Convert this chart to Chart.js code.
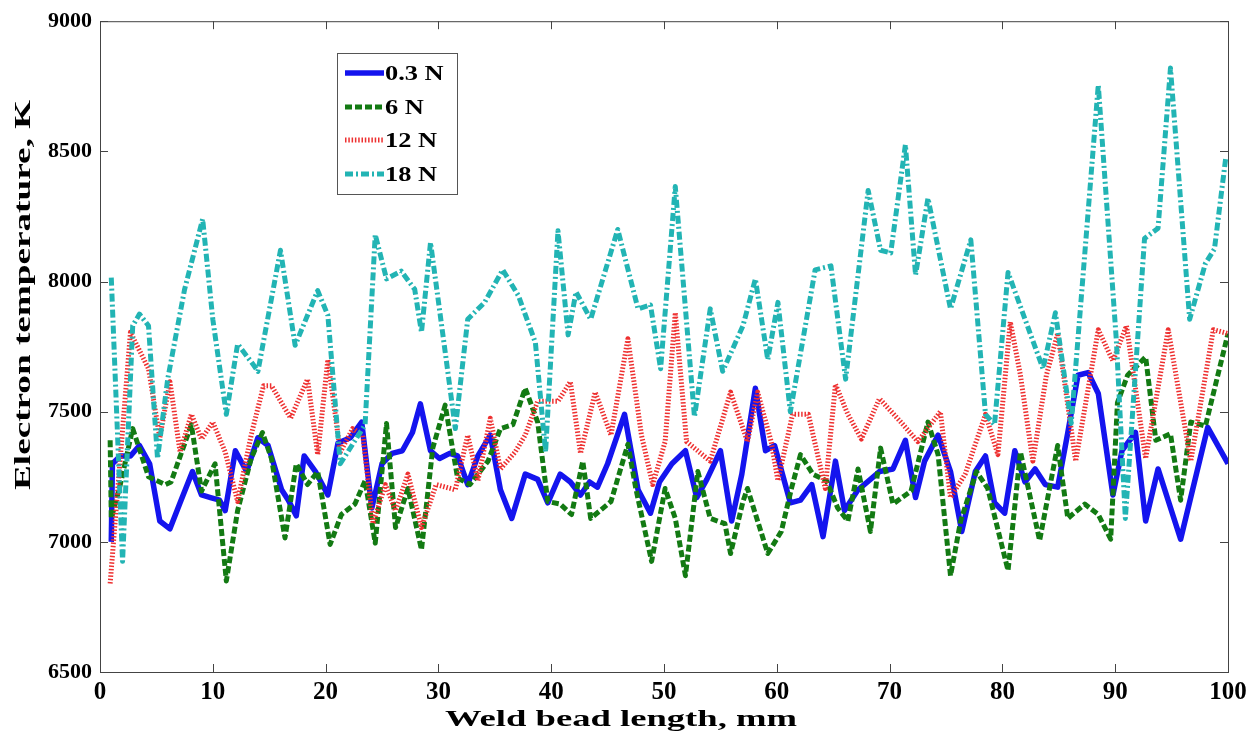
<!DOCTYPE html>
<html>
<head>
<meta charset="utf-8">
<script src="https://cdn.jsdelivr.net/npm/chart.js"></script>
<style>
  html, body { margin: 0; padding: 0; background: #fff; }
  #wrap { width: 1260px; height: 733px; }
</style>
</head>
<body>
<div id="wrap"><canvas id="chart" width="1260" height="733"></canvas></div>
<script>
// tick values
const xTicks = [0, 10, 20, 30, 40, 50, 60, 70, 80, 90, 100];
const yTicks = [6500, 7000, 7500, 8000, 8500, 9000];

// 0.3 N
const blueX = [1.0, 1.1, 1.8, 2.7, 3.5, 4.4, 5.3, 6.2, 7.1, 8.2, 9.0, 9.8, 10.6, 11.1, 12.0, 13.0, 14.0, 14.9, 16.1, 16.7,
  17.4, 18.1, 19.1, 20.2, 21.1, 22.2, 23.2, 24.1, 25.0, 25.9, 26.8, 27.7, 28.4, 29.3, 30.1, 31.0, 31.7, 32.6, 33.5, 34.6,
  35.5, 36.5, 37.7, 38.8, 39.7, 40.8, 41.7, 42.6, 43.4, 44.1, 45.0, 46.5, 47.7, 48.8, 49.6, 50.7, 51.9, 52.9, 53.8, 55.0,
  56.0, 56.9, 58.1, 59.0, 59.8, 61.2, 62.1, 63.1, 64.1, 65.2, 66.0, 67.2, 68.3, 69.1, 70.3, 71.4, 72.3, 73.1, 74.3, 75.4,
  76.4, 77.6, 78.5, 79.3, 80.2, 81.1, 82.0, 82.9, 83.8, 84.9, 85.8, 86.7, 87.6, 88.5, 89.8, 90.6, 91.8, 92.7, 93.8, 95.8,
  98.2, 100.0];
const blueY = [7000, 7300, 7330, 7330, 7370, 7300, 7080, 7050, 7150, 7270, 7180, 7170, 7160, 7120, 7350, 7270, 7400, 7370, 7200, 7160,
  7100, 7330, 7270, 7180, 7380, 7400, 7460, 7130, 7300, 7340, 7350, 7420, 7530, 7350, 7320, 7340, 7330, 7220, 7330, 7410,
  7200, 7090, 7260, 7240, 7150, 7260, 7230, 7180, 7230, 7210, 7300, 7490, 7200, 7110, 7230, 7300, 7350, 7170, 7240, 7350,
  7080, 7260, 7590, 7350, 7370, 7150, 7160, 7220, 7020, 7310, 7120, 7200, 7240, 7270, 7280, 7390, 7170, 7310, 7410, 7270,
  7040, 7270, 7330, 7150, 7110, 7350, 7230, 7280, 7220, 7210, 7420, 7640, 7650, 7570, 7180, 7350, 7420, 7080, 7280, 7010,
  7440, 7300];

// 6 N
const greenX = [0.9, 1.0, 1.8, 2.9, 4.3, 5.8, 6.3, 8.1, 9.0, 10.2, 11.2, 12.2, 13.4, 14.4, 15.2, 16.4, 17.4, 18.4, 19.3, 20.4,
  21.4, 22.6, 23.5, 24.4, 25.4, 26.2, 27.3, 28.5, 29.5, 30.6, 31.7, 32.8, 34.4, 35.5, 36.6, 37.7, 38.8, 39.7, 40.8, 41.8,
  42.8, 43.5, 45.3, 46.8, 47.5, 48.9, 50.1, 51.0, 51.9, 53.0, 54.1, 55.4, 55.9, 57.0, 57.4, 59.2, 60.4, 61.3, 62.1, 63.2,
  64.4, 65.4, 66.3, 67.2, 68.3, 69.2, 70.3, 71.9, 73.4, 74.3, 75.4, 76.3, 77.7, 78.7, 80.5, 81.6, 83.3, 84.9, 85.8, 87.3,
  88.5, 89.6, 90.2, 91.1, 92.7, 93.6, 94.9, 95.8, 96.7, 98.0, 100.0];
const greenY = [7390, 7090, 7220, 7435, 7250, 7220, 7230, 7450, 7195, 7300, 6850, 7120, 7320, 7420, 7320, 7015, 7300, 7220, 7270, 6990,
  7105, 7145, 7235, 6995, 7455, 7055, 7205, 6970, 7360, 7525, 7245, 7220, 7310, 7435, 7450, 7590, 7460, 7155, 7145, 7105,
  7310, 7090, 7155, 7375, 7205, 6925, 7205, 7090, 6870, 7270, 7090, 7070, 6955, 7155, 7205, 6955, 7040, 7205, 7335, 7260,
  7235, 7130, 7080, 7280, 7040, 7360, 7145, 7195, 7460, 7335, 6870, 7080, 7270, 7205, 6890, 7345, 7005, 7370, 7090, 7145,
  7105, 7010, 7535, 7640, 7710, 7390, 7415, 7160, 7460, 7445, 7800];

// 12 N
const redX = [0.9, 2.7, 4.3, 5.3, 6.2, 7.1, 8.1, 9.0, 10.0, 11.1, 12.2, 13.4, 14.5, 15.2, 16.9, 18.4, 19.3, 20.2, 21.3, 22.4,
  23.3, 24.2, 25.3, 26.2, 27.3, 28.5, 29.8, 31.5, 32.6, 33.5, 34.6, 35.5, 36.8, 37.7, 38.8, 40.6, 41.7, 42.6, 43.9, 45.3,
  46.8, 48.0, 49.0, 50.1, 51.0, 52.0, 54.1, 55.9, 57.4, 58.3, 59.5, 60.1, 61.4, 62.8, 64.3, 65.2, 66.3, 67.5, 69.1, 71.0,
  72.5, 74.5, 75.4, 76.7, 78.5, 79.6, 80.7, 81.6, 82.7, 83.9, 84.9, 86.5, 88.5, 89.8, 91.0, 92.7, 94.7, 96.7, 98.7, 100.0];
const redY = [6840, 7805, 7665, 7400, 7615, 7345, 7490, 7395, 7460, 7345, 7155, 7410, 7600, 7600, 7475, 7625, 7335, 7700, 7345, 7435,
  7410, 7070, 7220, 7120, 7260, 7055, 7220, 7200, 7410, 7235, 7475, 7280, 7345, 7410, 7540, 7540, 7615, 7340, 7575, 7410,
  7780, 7410, 7220, 7385, 7880, 7385, 7310, 7575, 7385, 7575, 7385, 7235, 7490, 7490, 7205, 7605, 7490, 7395, 7550, 7460,
  7385, 7500, 7170, 7260, 7490, 7335, 7845, 7640, 7310, 7640, 7800, 7310, 7815, 7695, 7830, 7320, 7815, 7310, 7815, 7800];

// 18 N
const cyanX = [1.0, 2.0, 2.9, 3.5, 4.3, 5.1, 6.0, 7.5, 9.1, 10.0, 11.2, 12.2, 13.6, 14.0, 16.0, 17.3, 19.3, 20.2, 21.3, 23.5,
  24.4, 25.4, 26.7, 27.9, 28.5, 29.3, 30.6, 31.5, 32.6, 34.1, 35.7, 37.1, 38.6, 39.5, 40.6, 41.5, 42.2, 43.5, 45.9, 47.7,
  48.8, 49.7, 51.0, 52.7, 54.1, 55.2, 57.0, 58.1, 59.2, 60.1, 61.2, 63.4, 64.8, 66.1, 68.1, 69.2, 70.1, 71.4, 72.3, 73.4,
  75.4, 77.2, 78.5, 79.3, 80.5, 83.6, 84.7, 86.1, 88.5, 90.1, 90.9, 92.6, 93.8, 94.9, 96.6, 98.0, 98.8, 99.8];
const cyanY = [8015, 6925, 7830, 7875, 7830, 7320, 7625, 7970, 8240, 7855, 7490, 7760, 7680, 7655, 8120, 7755, 7965, 7870, 7300, 7450,
  8180, 8010, 8040, 7970, 7805, 8150, 7730, 7435, 7855, 7920, 8045, 7945, 7765, 7345, 8195, 7795, 7960, 7855, 8200, 7895,
  7910, 7665, 8365, 7480, 7895, 7655, 7830, 8010, 7700, 7920, 7500, 8045, 8060, 7625, 8350, 8120, 8110, 8525, 8025, 8320,
  7895, 8160, 7490, 7450, 8035, 7665, 7880, 7455, 8755, 7775, 7090, 8165, 8205, 8820, 7855, 8070, 8125, 8475];

const FONT = '"Liberation Serif", "Times New Roman", serif';

function toPoints(xs, ys) {
  return xs.map((x, i) => ({ x: x, y: ys[i] }));
}

// box with inward ticks on all four sides, like the original figure
const framePlugin = {
  id: 'frame',
  afterDatasetsDraw(chart) {
    const { ctx, chartArea: a, scales } = chart;
    ctx.save();
    ctx.strokeStyle = '#444';
    ctx.lineWidth = 1;
    ctx.strokeRect(a.left + 0.5, a.top + 0.5, a.right - a.left, a.bottom - a.top);
    const tl = 8;
    ctx.beginPath();
    xTicks.forEach(v => {
      const px = Math.round(scales.x.getPixelForValue(v)) + 0.5;
      ctx.moveTo(px, a.bottom); ctx.lineTo(px, a.bottom - tl);
      ctx.moveTo(px, a.top); ctx.lineTo(px, a.top + tl);
    });
    yTicks.forEach(v => {
      const py = Math.round(scales.y.getPixelForValue(v)) + 0.5;
      ctx.moveTo(a.left, py); ctx.lineTo(a.left + tl, py);
      ctx.moveTo(a.right, py); ctx.lineTo(a.right - tl, py);
    });
    ctx.stroke();
    ctx.restore();
  }
};

// stretched axis titles and the boxed legend
const labelsPlugin = {
  id: 'labels',
  afterDraw(chart) {
    const { ctx } = chart;
    ctx.save();
    ctx.fillStyle = '#000';
    ctx.textBaseline = 'alphabetic';
    ctx.textAlign = 'center';

    // x title
    ctx.font = 'bold 24px ' + FONT;
    let t = 'Weld bead length, mm';
    let w = ctx.measureText(t).width;
    ctx.save();
    ctx.translate(621, 726);
    ctx.scale(352 / w, 1);
    ctx.fillText(t, 0, 0);
    ctx.restore();

    // y title
    t = 'Electron temperature, K';
    w = ctx.measureText(t).width;
    ctx.save();
    ctx.translate(30, 295);
    ctx.rotate(-Math.PI / 2);
    ctx.scale(390 / w, 1);
    ctx.fillText(t, 0, 0);
    ctx.restore();

    // legend
    const bx = 337, by = 53, bw = 120, bh = 141;
    ctx.fillStyle = '#fff';
    ctx.fillRect(bx, by, bw, bh);
    ctx.strokeStyle = '#555';
    ctx.lineWidth = 1;
    ctx.strokeRect(bx + 0.5, by + 0.5, bw, bh);
    const rows = [73, 107, 140, 174];
    ctx.font = 'bold 22px ' + FONT;
    ctx.textAlign = 'left';
    ctx.textBaseline = 'middle';
    chart.data.datasets.forEach((ds, i) => {
      const y = rows[i];
      ctx.save();
      ctx.strokeStyle = ds.borderColor;
      ctx.lineWidth = ds.borderWidth;
      ctx.setLineDash(ds.borderDash || []);
      ctx.beginPath();
      ctx.moveTo(345, y);
      ctx.lineTo(384, y);
      ctx.stroke();
      ctx.restore();
      ctx.save();
      ctx.fillStyle = '#000';
      ctx.translate(385, y + 1);
      ctx.scale(1.2, 1);
      ctx.fillText(ds.label, 0, 0);
      ctx.restore();
    });
    ctx.restore();
  }
};

const ctx = document.getElementById('chart').getContext('2d');
new Chart(ctx, {
  type: 'line',
  data: {
    datasets: [
      {
        label: '0.3 N',
        data: toPoints(blueX, blueY),
        borderColor: '#1414ee',
        borderWidth: 5.5,
        order: 3
      },
      {
        label: '6 N',
        data: toPoints(greenX, greenY),
        borderColor: '#137a13',
        borderWidth: 5,
        borderDash: [7, 3],
        order: 2
      },
      {
        label: '12 N',
        data: toPoints(redX, redY),
        borderColor: '#ee3030',
        borderWidth: 5,
        borderDash: [1.5, 1.8],
        order: 1
      },
      {
        label: '18 N',
        data: toPoints(cyanX, cyanY),
        borderColor: '#22b4b4',
        borderWidth: 5,
        borderDash: [8, 3, 2, 3],
        order: 0
      }
    ]
  },
  options: {
    responsive: false,
    animation: false,
    devicePixelRatio: 1,
    layout: { padding: { top: 17, right: 32, left: 0, bottom: 0 } },
    elements: {
      point: { radius: 0 },
      line: { tension: 0, borderJoinStyle: 'round', fill: false }
    },
    plugins: {
      legend: { display: false },
      tooltip: { enabled: false }
    },
    scales: {
      x: {
        type: 'linear',
        min: 0,
        max: 100,
        afterBuildTicks: s => { s.ticks = xTicks.map(v => ({ value: v })); },
        afterFit: s => { s.height = 61; },
        grid: { display: false, drawTicks: false },
        border: { display: false },
        ticks: { padding: 6, color: '#000', maxRotation: 0, callback: v => String(v), font: { family: FONT, size: 25, weight: 'bold' } }
      },
      y: {
        type: 'linear',
        min: 6500,
        max: 9000,
        afterBuildTicks: s => { s.ticks = yTicks.map(v => ({ value: v })); },
        afterFit: s => { s.width = 100; },
        grid: { display: false, drawTicks: false },
        border: { display: false },
        ticks: { padding: 8, color: '#000', callback: v => String(v), font: { family: FONT, size: 22, weight: 'bold' } }
      }
    }
  },
  plugins: [framePlugin, labelsPlugin]
});
</script>
</body>
</html>
